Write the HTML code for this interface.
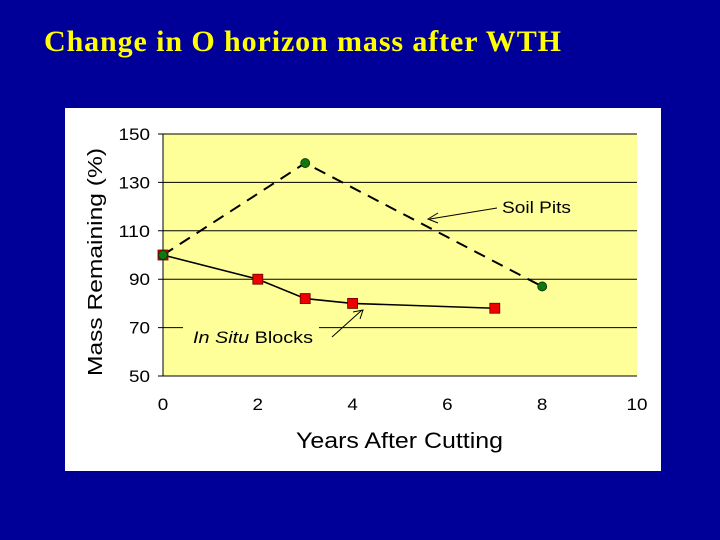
<!DOCTYPE html>
<html><head><meta charset="utf-8"><style>
html,body{margin:0;padding:0;background:#000099;width:720px;height:540px;overflow:hidden}
#title{position:absolute;left:44px;top:25px;font-family:"Liberation Serif",serif;font-weight:bold;font-size:30px;letter-spacing:0.9px;color:#ffff00;white-space:nowrap}
svg{position:absolute;left:0;top:0}
text{font-family:"Liberation Sans",sans-serif}
</style></head><body>
<div id="title">Change in O horizon mass after WTH</div>
<svg id="c" width="720" height="540">
<rect x="65" y="108" width="596" height="363" fill="#ffffff"/>
<g id="g"></g>
</svg>
<script>
const xTicks=[0,2,4,6,8,10];
const yTicks=[50,70,90,110,130,150];
const pitsX=[0,3,8];
const pitsY=[100,138,87];
const blocksX=[0,2,3,4,7];
const blocksY=[100,90,82,80,78];
const L=163,R=637,T=134,B=376;
const sx=v=>L+(v-0)/(10-0)*(R-L);
const sy=v=>B-(v-50)/(150-50)*(B-T);
const g=document.getElementById('g');
const NS='http://www.w3.org/2000/svg';
function mk(t,a){const e=document.createElementNS(NS,t);for(const k in a)e.setAttribute(k,a[k]);g.appendChild(e);return e;}
let e=mk('rect',{x:L,y:T,width:R-L,height:B-T,fill:'#ffff99'});


yTicks.forEach(v=>{
 const y=sy(v);
 let l=mk('line',{x1:L-5,x2:R,y1:y,y2:y,stroke:'#000','stroke-width':1});
 
 
 let s=String(v);
 let t=mk('text',{x:150,y:y+6,'text-anchor':'end','font-size':17,fill:'#000',textLength:s.length*10.5,lengthAdjust:'spacingAndGlyphs'});
 t.textContent=s;
 
 
});
mk('line',{x1:L,x2:L,y1:T,y2:B,stroke:'#000','stroke-width':1});
xTicks.forEach(v=>{
 let s=String(v);
 let t=mk('text',{x:sx(v),y:410,'text-anchor':'middle','font-size':17,fill:'#000',textLength:s.length*10.5,lengthAdjust:'spacingAndGlyphs'});
 t.textContent=s;
 
 
});
let xt=mk('text',{x:296,y:448,'font-size':22,fill:'#000',textLength:207,lengthAdjust:'spacingAndGlyphs'});
xt.textContent='Years After Cutting';


let yt=mk('text',{x:0,y:0,'text-anchor':'middle','font-size':20,fill:'#000',textLength:228,lengthAdjust:'spacingAndGlyphs',transform:'translate(102,262) rotate(-90)'});
yt.textContent='Mass Remaining (%)';


mk('rect',{x:183,y:320,width:136,height:30,fill:'#ffff99'});
let p=mk('polyline',{points:pitsX.map((x,i)=>sx(x)+','+sy(pitsY[i])).join(' '),fill:'none',stroke:'#000','stroke-width':2,'stroke-dasharray':'12,8'});


let b=mk('polyline',{points:blocksX.map((x,i)=>sx(x)+','+sy(blocksY[i])).join(' '),fill:'none',stroke:'#000','stroke-width':1.6});


blocksX.forEach((x,i)=>{
 let r=mk('rect',{x:sx(x)-5,y:sy(blocksY[i])-5,width:10,height:10,fill:'#ee0000',stroke:'#660000','stroke-width':0.8});
 
 
});
pitsX.forEach((x,i)=>{
 let c=mk('circle',{cx:sx(x),cy:sy(pitsY[i]),r:4.5,fill:'#117711',stroke:'#003300','stroke-width':0.8});
 
 
});
let sp=mk('text',{x:502,y:213,'font-size':17,fill:'#000',textLength:69,lengthAdjust:'spacingAndGlyphs'});
sp.textContent='Soil Pits';


mk('line',{x1:497,x2:430,y1:208,y2:219,stroke:'#000','stroke-width':1});
mk('polyline',{points:'438,213 428,219 438,223',fill:'none',stroke:'#000','stroke-width':1});
let bl=mk('text',{x:193,y:343,'font-size':17,fill:'#000',textLength:120,lengthAdjust:'spacingAndGlyphs'});
bl.innerHTML='<tspan font-style="italic">In Situ</tspan> Blocks';


mk('line',{x1:332,x2:362,y1:337,y2:310,stroke:'#000','stroke-width':1});
mk('polyline',{points:'353,312 363,310 360,319',fill:'none',stroke:'#000','stroke-width':1});
</script>
</body></html>
